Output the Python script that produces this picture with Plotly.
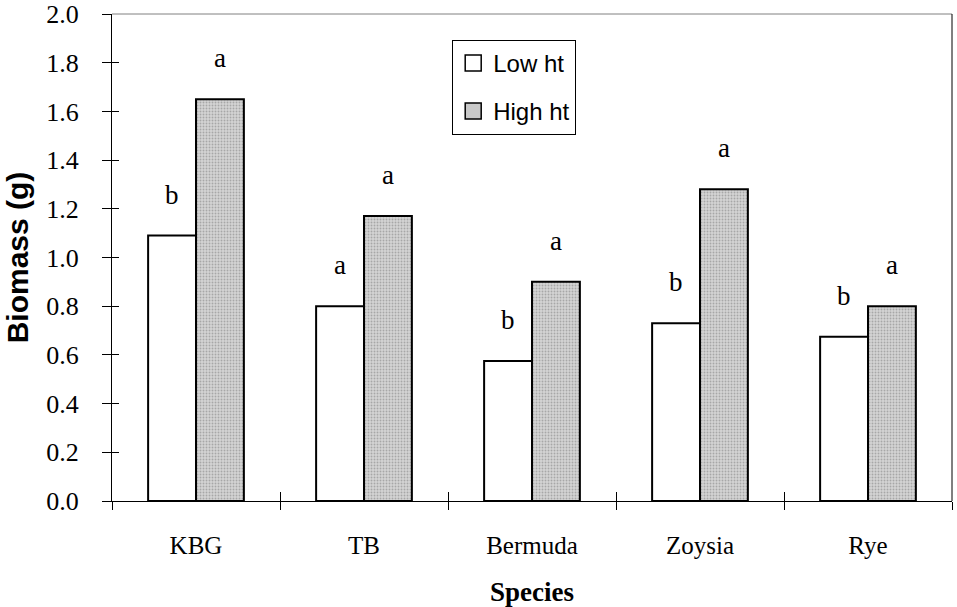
import plotly.graph_objects as go

# Biomass by species under two cutting heights
species = ["KBG", "TB", "Bermuda", "Zoysia", "Rye"]
low_ht = [1.09, 0.80, 0.575, 0.73, 0.675]
high_ht = [1.65, 1.17, 0.90, 1.28, 0.80]
low_letters = ["b", "a", "b", "b", "b"]
high_letters = ["a", "a", "a", "a", "a"]
y_tick_vals = [0.0, 0.2, 0.4, 0.6, 0.8, 1.0, 1.2, 1.4, 1.6, 1.8, 2.0]

SERIF = "Liberation Serif"
SANS = "Liberation Sans"
HIGH_FILL = "#c9c9c9"

fig = go.Figure()
fig.add_bar(
    name="Low ht", x=species, y=low_ht, showlegend=False,
    marker=dict(color="white", line=dict(color="black", width=2)),
)
fig.add_bar(
    name="High ht", x=species, y=high_ht, showlegend=False,
    marker=dict(
        color="#d4d4d4",
        line=dict(color="black", width=2),
        pattern=dict(shape=".", fgcolor="#7a7a7a", size=3, solidity=0.3),
    ),
)
# legend keys with larger square swatches
fig.add_scatter(x=[None], y=[None], name="Low ht", mode="markers",
                legendgroup="low",
                marker=dict(symbol="square", size=17, color="white",
                            line=dict(color="black", width=1.5)))
fig.add_scatter(x=[None], y=[None], name="High ht", mode="markers",
                legendgroup="high",
                marker=dict(symbol="square", size=17, color=HIGH_FILL,
                            line=dict(color="black", width=1.5)))
# helper trace so the secondary (inner-tick) axes are drawn
fig.add_scatter(x=[None], y=[None], xaxis="x2", yaxis="y2",
                showlegend=False, hoverinfo="skip")

# significance letters above each bar
annotations = []
for cat, v, t in zip(species, low_ht, low_letters):
    annotations.append(dict(x=cat, y=v, text=t, xshift=-24, yshift=41,
                            showarrow=False, yanchor="middle",
                            font=dict(family=SERIF, size=27, color="black")))
for cat, v, t in zip(species, high_ht, high_letters):
    annotations.append(dict(x=cat, y=v, text=t, xshift=24, yshift=41,
                            showarrow=False, yanchor="middle",
                            font=dict(family=SERIF, size=27, color="black")))

n = len(species)
fig.update_layout(
    width=957, height=607,
    margin=dict(l=112, r=5, t=14, b=106),
    paper_bgcolor="white", plot_bgcolor="white",
    barmode="group", bargap=0.43, bargroupgap=0.0,
    annotations=annotations,
    font=dict(family=SERIF, color="black"),
    xaxis=dict(
        automargin=False,
        showline=True, linecolor="black", linewidth=1,
        ticks="outside", ticklen=8, tickwidth=1, tickcolor="black",
        tickson="boundaries", showgrid=False, zeroline=False,
        tickfont=dict(family=SERIF, size=25),
        title=dict(text="<b>Species</b>", font=dict(family=SERIF, size=27),
                   standoff=26),
        ticklabelstandoff=22,
    ),
    yaxis=dict(
        automargin=False,
        range=[0, 2.0], tickvals=y_tick_vals, tickformat=".1f",
        showline=True, linecolor="black", linewidth=1,
        ticks="outside", ticklen=9, tickwidth=1, tickcolor="black",
        showgrid=False, zeroline=False,
        tickfont=dict(family=SERIF, size=26),
        ticklabelstandoff=18,
        title=dict(text="<b>Biomass (g)</b>", font=dict(family=SANS, size=30),
                   standoff=8),
    ),
    # inner halves of the crossing tick marks
    xaxis2=dict(
        overlaying="x", anchor="y", side="bottom", range=[-0.5, n - 0.5],
        tickvals=[i - 0.5 for i in range(n + 1)], ticks="inside",
        ticklen=9, tickwidth=1, tickcolor="black",
        showticklabels=False, showgrid=False, zeroline=False, showline=False,
    ),
    yaxis2=dict(
        overlaying="y", anchor="x", side="left", range=[0, 2.0],
        tickvals=y_tick_vals, ticks="inside", ticklen=7, tickwidth=1,
        tickcolor="black", showticklabels=False, showgrid=False,
        zeroline=False, showline=False,
    ),
    legend=dict(
        x=0.405, y=0.947, xanchor="left", yanchor="top",
        bgcolor="white", bordercolor="black", borderwidth=1,
        font=dict(family=SANS, size=24, color="black"),
        traceorder="grouped", tracegroupgap=14,
        itemwidth=30,
    ),
    shapes=[
        dict(type="line", xref="paper", yref="paper", x0=0, x1=1, y0=1, y1=1,
             line=dict(color="#808080", width=1)),
        dict(type="line", xref="paper", yref="paper", x0=1, x1=1, y0=0, y1=1,
             line=dict(color="black", width=1)),
    ],
)

fig.write_html("out.html")
